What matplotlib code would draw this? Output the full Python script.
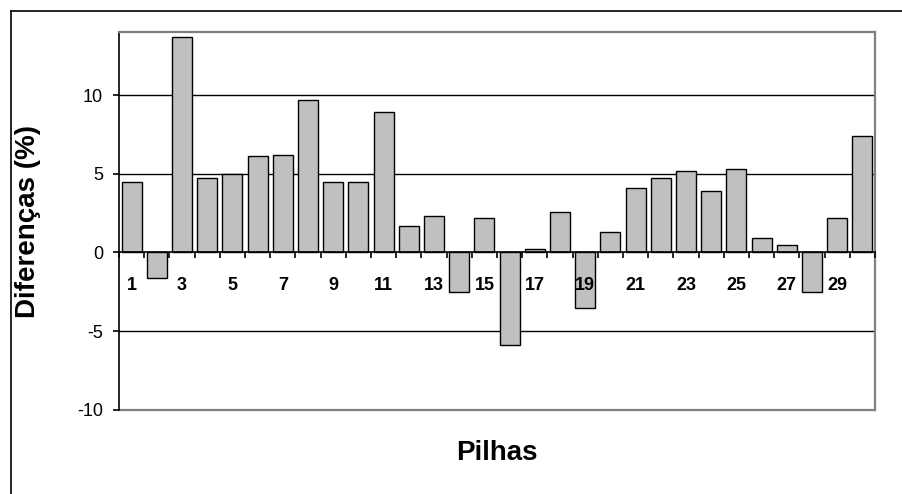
import matplotlib
matplotlib.use("Agg")
import matplotlib.pyplot as plt
from matplotlib.lines import Line2D
import numpy as np

categories = list(range(1, 31))
values = [4.5, -1.6, 13.7, 4.7, 5.0, 6.1, 6.2, 9.7, 4.5, 4.5,
          8.9, 1.7, 2.3, -2.5, 2.2, -5.9, 0.2, 2.6, -3.5, 1.3,
          4.1, 4.7, 5.2, 3.9, 5.3, 0.9, 0.5, -2.5, 2.2, 7.4]
ytick_values = [-10, -5, 0, 5, 10]
xtick_labels = [str(c) for c in categories if c % 2 == 1]
xtick_pos = [c for c in categories if c % 2 == 1]

plt.rcParams['font.family'] = ['Liberation Sans', 'DejaVu Sans']

fig = plt.figure(figsize=(9.02, 4.94), dpi=100)
ax = fig.add_axes([119/902, 1-410/494, (875-119)/902, (410-32)/494])

ax.set_xlim(0.5, 30.5)
ax.set_ylim(-10, 14)

for g in [-5, 5, 10]:
    ax.axhline(g, color='black', lw=1.0, zorder=1)
ax.axhline(-10, color='#808080', lw=1.6, zorder=1, clip_on=False)

ax.bar(categories, values, width=0.8, color='#C0C0C0', edgecolor='black',
       linewidth=1.0, zorder=2)

# spines
ax.spines['bottom'].set_position(('data', 0))
ax.spines['bottom'].set_color('black')
ax.spines['bottom'].set_linewidth(1.2)
ax.spines['bottom'].set_zorder(3)
ax.spines['left'].set_color('black')
ax.spines['left'].set_linewidth(1.2)
ax.spines['top'].set_color('#808080')
ax.spines['top'].set_linewidth(1.6)
ax.spines['right'].set_color('#808080')
ax.spines['right'].set_linewidth(1.6)

# y ticks
ax.set_yticks(ytick_values)
ax.set_yticklabels([str(v) for v in ytick_values])
ax.tick_params(axis='y', direction='out', length=4.5, width=1.2, pad=7,
               labelsize=13, color='black')

# x ticks: boundaries as major (marks), labels as minor
ax.set_xticks(np.arange(0.5, 31, 1.0))
ax.set_xticklabels([])
ax.tick_params(axis='x', which='major', direction='out', length=4, width=1.2,
               color='black')
ax.set_xticks(xtick_pos, minor=True)
ax.set_xticklabels(xtick_labels, minor=True, fontweight='bold')
ax.tick_params(axis='x', which='minor', length=0, pad=18, labelsize=13)
ax.xaxis.set_zorder(5)

ax.set_ylabel('Diferenças (%)', fontsize=20, fontweight='bold', labelpad=10)
ax.yaxis.set_label_coords(-0.103, 0.5)
fig.text(497/902, 1-453/494, 'Pilhas', fontsize=20, fontweight='bold',
         ha='center', va='center')

# outer frame (left and top)
fig.add_artist(Line2D([11/902, 11/902], [0, 1-11/494], color='black', lw=1.2,
                      transform=fig.transFigure))
fig.add_artist(Line2D([11/902, 1], [1-11/494, 1-11/494], color='black', lw=1.2,
                      transform=fig.transFigure))

fig.savefig('out.png', dpi=100)
